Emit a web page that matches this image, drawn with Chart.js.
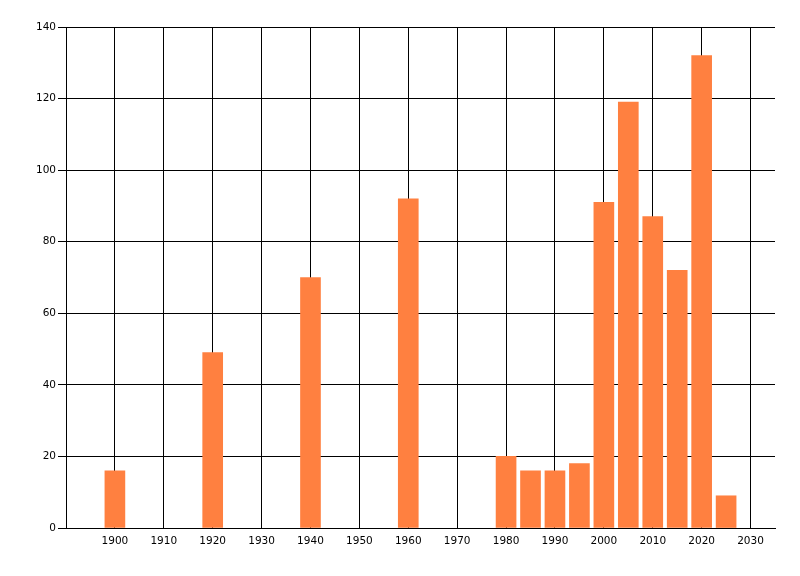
<!DOCTYPE html>
<html>
<head>
<meta charset="utf-8">
<script src="https://cdn.jsdelivr.net/npm/chart.js@4/dist/chart.umd.min.js"></script>
<style>
  html, body { margin: 0; padding: 0; background: #fff; }
  #wrap { width: 800px; height: 576px; }
</style>
</head>
<body>
<div id="wrap"><canvas id="yearChart" width="800" height="576"></canvas></div>
<script>
// Chart data
const years = [1900, 1920, 1940, 1960, 1980, 1985, 1990, 1995, 2000, 2005, 2010, 2015, 2020, 2025];
const counts = [16, 49, 70, 92, 20, 16, 16, 18, 91, 119, 87, 72, 132, 9];
const xTickValues = [1900, 1910, 1920, 1930, 1940, 1950, 1960, 1970, 1980, 1990, 2000, 2010, 2020, 2030];
const yTickValues = [0, 20, 40, 60, 80, 100, 120, 140];

function renderYearChart() {
    const ctx = document.getElementById('yearChart').getContext('2d');
    const points = years.map((y, i) => ({ x: y, y: counts[i] }));

    new Chart(ctx, {
        type: 'bar',
        data: {
            datasets: [{
                data: points,
                backgroundColor: '#ff8040',
                borderWidth: 0,
                barThickness: 20
            }]
        },
        options: {
            responsive: false,
            animation: false,
            layout: { padding: { top: 27, right: 25, left: 0, bottom: 0 } },
            plugins: {
                legend: { display: false },
                tooltip: { enabled: false }
            },
            scales: {
                x: {
                    type: 'linear',
                    min: 1890,
                    max: 2035,
                    offset: false,
                    afterBuildTicks: scale => {
                        scale.ticks = xTickValues.map(v => ({ value: v }));
                    },
                    afterFit: scale => { scale.height = 48; },
                    grid: { color: '#000', lineWidth: 1, drawTicks: false, offset: false },
                    border: { color: '#000', width: 1 },
                    ticks: {
                        color: '#000',
                        padding: 7,
                        autoSkip: false,
                        maxRotation: 0,
                        font: { family: 'DejaVu Sans', size: 10.5 },
                        callback: v => String(v)
                    }
                },
                y: {
                    min: 0,
                    max: 140,
                    afterBuildTicks: scale => {
                        scale.ticks = yTickValues.map(v => ({ value: v }));
                    },
                    afterFit: scale => { scale.width = 66; },
                    grid: { color: '#000', lineWidth: 1, tickLength: 8 },
                    border: { color: '#000', width: 1 },
                    ticks: {
                        color: '#000',
                        padding: 2,
                        font: { family: 'DejaVu Sans', size: 10.5 }
                    }
                }
            }
        }
    });
}

document.addEventListener("DOMContentLoaded", function() {
    renderYearChart();
});
</script>
</body>
</html>
